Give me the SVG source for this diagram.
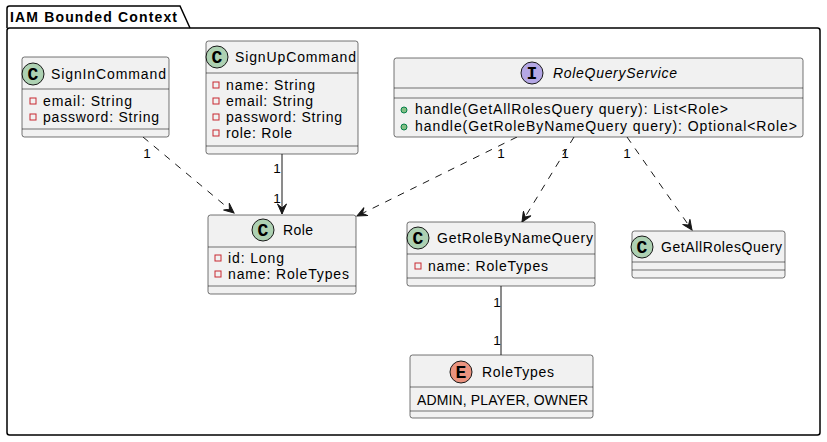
<svg xmlns="http://www.w3.org/2000/svg" width="827" height="442" viewBox="0 0 827 442">
<defs>
<style>
text{font-family:"Liberation Sans",Arial,sans-serif;fill:#000}
.box{fill:#F1F1F1;stroke:#181818;stroke-width:0.6}
.sep{stroke:#181818;stroke-width:0.6}
.t{font-size:14px}
.it{font-size:14px;font-style:italic}
.lbl{font-size:13.5px}
.cc{fill:#ADD1B2;stroke:#181818;stroke-width:1}
.ci{fill:#B4A7E5;stroke:#181818;stroke-width:1}
.ce{fill:#EB937F;stroke:#181818;stroke-width:1}
.glyph{font-family:"Liberation Mono",monospace;font-weight:bold;font-size:18px;text-anchor:middle}
.priv{fill:none;stroke:#C82930;stroke-width:1}
.pub{fill:#84BE84;stroke:#038048;stroke-width:1}
.dash{fill:none;stroke:#181818;stroke-width:1;stroke-dasharray:7,7}
.solid{fill:none;stroke:#181818;stroke-width:1}
</style>
<marker id="arr" viewBox="0 0 12 10" refX="11" refY="5" markerWidth="12" markerHeight="10" markerUnits="userSpaceOnUse" orient="auto">
<path d="M11,5 L1,0.5 L5,5 L1,9.5 Z" fill="#181818" stroke="#181818" stroke-width="1" stroke-linejoin="miter"/>
</marker>
</defs>
<rect width="827" height="442" fill="#FFFFFF"/>
<g id="package">
<path d="M7,28 L7,8.5 Q7,6 9.5,6 L180,6 L190,28" fill="none" stroke="#000" stroke-width="1.5"/>
<rect x="7" y="28" width="813" height="407" rx="2.5" fill="none" stroke="#000" stroke-width="1.5"/>
<text x="10" y="22" font-size="14" font-weight="bold" textLength="167" lengthAdjust="spacing">IAM Bounded Context</text>
</g>
<g id="connectors">
<path class="dash" d="M143,137 L234,213" marker-end="url(#arr)"/>
<path class="solid" d="M282,154 L282,214" marker-end="url(#arr)"/>
<path class="dash" d="M517,137 L357,216" marker-end="url(#arr)"/>
<path class="dash" d="M574,137 L522,222" marker-end="url(#arr)"/>
<path class="dash" d="M627,137 L692,230" marker-end="url(#arr)"/>
<path class="solid" d="M501,286 L501,355"/>
<text class="lbl" x="147" y="158" text-anchor="middle">1</text>
<text class="lbl" x="277" y="173" text-anchor="middle">1</text>
<text class="lbl" x="277" y="203" text-anchor="middle">1</text>
<text class="lbl" x="501" y="158" text-anchor="middle">1</text>
<text class="lbl" x="565" y="158" text-anchor="middle">1</text>
<text class="lbl" x="627" y="158" text-anchor="middle">1</text>
<text class="lbl" x="497" y="307" text-anchor="middle">1</text>
<text class="lbl" x="497" y="345" text-anchor="middle">1</text>
</g>
<g id="SignInCommand">
<rect class="box" x="22" y="57" width="147" height="80" rx="2.5"/>
<circle class="cc" cx="33" cy="74" r="11"/>
<text class="glyph" x="33" y="80">C</text>
<text class="t" x="51" y="79" textLength="115" lengthAdjust="spacing">SignInCommand</text>
<line class="sep" x1="22" y1="89" x2="169" y2="89"/>
<rect class="priv" x="30" y="98" width="6" height="6"/>
<text class="t" x="43" y="106" textLength="89" lengthAdjust="spacing">email: String</text>
<rect class="priv" x="30" y="114" width="6" height="6"/>
<text class="t" x="43" y="122" textLength="116" lengthAdjust="spacing">password: String</text>
<line class="sep" x1="22" y1="129" x2="169" y2="129"/>
</g>
<g id="SignUpCommand">
<rect class="box" x="206" y="41" width="152" height="113" rx="2.5"/>
<circle class="cc" cx="217" cy="57" r="11"/>
<text class="glyph" x="217" y="63">C</text>
<text class="t" x="235" y="62" textLength="121" lengthAdjust="spacing">SignUpCommand</text>
<line class="sep" x1="206" y1="73" x2="358" y2="73"/>
<rect class="priv" x="213" y="82" width="6" height="6"/>
<text class="t" x="226" y="90" textLength="89" lengthAdjust="spacing">name: String</text>
<rect class="priv" x="213" y="98" width="6" height="6"/>
<text class="t" x="226" y="106" textLength="87" lengthAdjust="spacing">email: String</text>
<rect class="priv" x="213" y="114" width="6" height="6"/>
<text class="t" x="226" y="122" textLength="116" lengthAdjust="spacing">password: String</text>
<rect class="priv" x="213" y="130" width="6" height="6"/>
<text class="t" x="226" y="138" textLength="66" lengthAdjust="spacing">role: Role</text>
<line class="sep" x1="206" y1="146" x2="358" y2="146"/>
</g>
<g id="RoleQueryService">
<rect class="box" x="394" y="58" width="409" height="79" rx="2.5"/>
<circle class="ci" cx="532" cy="73" r="11"/>
<text class="glyph" x="532" y="79">I</text>
<text class="it" x="553" y="78" textLength="124" lengthAdjust="spacing">RoleQueryService</text>
<line class="sep" x1="394" y1="88" x2="803" y2="88"/>
<line class="sep" x1="394" y1="98" x2="803" y2="98"/>
<circle class="pub" cx="404" cy="110" r="3"/>
<text class="t" x="415" y="114" textLength="313" lengthAdjust="spacing">handle(GetAllRolesQuery query): List&lt;Role&gt;</text>
<circle class="pub" cx="404" cy="127" r="3"/>
<text class="t" x="415" y="131" textLength="382" lengthAdjust="spacing">handle(GetRoleByNameQuery query): Optional&lt;Role&gt;</text>
</g>
<g id="Role">
<rect class="box" x="208" y="215" width="148" height="79" rx="2.5"/>
<circle class="cc" cx="263" cy="230" r="11"/>
<text class="glyph" x="263" y="236">C</text>
<text class="t" x="283" y="235" textLength="30" lengthAdjust="spacing">Role</text>
<line class="sep" x1="208" y1="247" x2="356" y2="247"/>
<rect class="priv" x="215" y="255" width="6" height="6"/>
<text class="t" x="228" y="263" textLength="56" lengthAdjust="spacing">id: Long</text>
<rect class="priv" x="215" y="271" width="6" height="6"/>
<text class="t" x="228" y="279" textLength="121" lengthAdjust="spacing">name: RoleTypes</text>
<line class="sep" x1="208" y1="286" x2="356" y2="286"/>
</g>
<g id="GetRoleByNameQuery">
<rect class="box" x="407" y="222" width="188" height="64" rx="2.5"/>
<circle class="cc" cx="418" cy="238" r="11"/>
<text class="glyph" x="418" y="244">C</text>
<text class="t" x="437" y="243" textLength="156" lengthAdjust="spacing">GetRoleByNameQuery</text>
<line class="sep" x1="407" y1="254" x2="595" y2="254"/>
<rect class="priv" x="415" y="263" width="6" height="6"/>
<text class="t" x="428" y="271" textLength="120" lengthAdjust="spacing">name: RoleTypes</text>
<line class="sep" x1="407" y1="278" x2="595" y2="278"/>
</g>
<g id="GetAllRolesQuery">
<rect class="box" x="632" y="231" width="153" height="47" rx="2.5"/>
<circle class="cc" cx="642" cy="247" r="11"/>
<text class="glyph" x="642" y="253">C</text>
<text class="t" x="661" y="252" textLength="121" lengthAdjust="spacing">GetAllRolesQuery</text>
<line class="sep" x1="632" y1="262" x2="785" y2="262"/>
<line class="sep" x1="632" y1="270" x2="785" y2="270"/>
</g>
<g id="RoleTypes">
<rect class="box" x="410" y="355" width="183" height="63" rx="2.5"/>
<circle class="ce" cx="461" cy="372" r="11"/>
<text class="glyph" x="461" y="378">E</text>
<text class="t" x="482" y="377" textLength="72" lengthAdjust="spacing">RoleTypes</text>
<line class="sep" x1="410" y1="387" x2="593" y2="387"/>
<text class="t" x="417" y="405" textLength="171" lengthAdjust="spacing">ADMIN, PLAYER, OWNER</text>
<line class="sep" x1="410" y1="411" x2="593" y2="411"/>
</g>
</svg>
